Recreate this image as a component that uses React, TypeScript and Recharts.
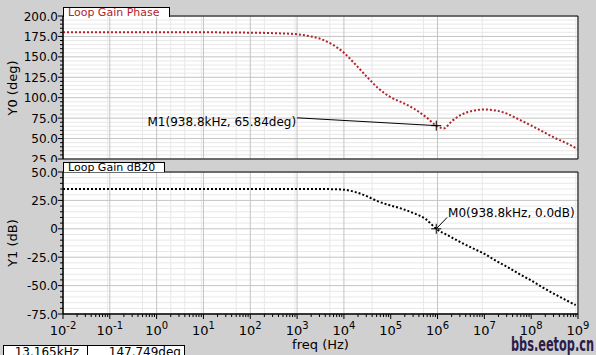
import { LineChart, Line, XAxis, YAxis, CartesianGrid, ReferenceArea, ReferenceLine, ReferenceDot } from 'recharts';

// log10 of frequency (Hz) at each sample
const phaseExp = [-2, -1, 0, 1, 2, 2.5, 3, 3.25, 3.5, 3.75, 4, 4.25, 4.5, 4.75, 5, 5.25, 5.5, 5.75, 5.9726, 6.13, 6.3, 6.5, 6.75, 7, 7.25, 7.5, 7.75, 8, 8.25, 8.5, 8.75, 9];
const phaseDeg = [180, 180, 180, 180, 179.6, 179, 177.6, 175.5, 172, 165.2, 155, 140.5, 125, 110.8, 100.5, 94, 86.5, 76.5, 65.84, 62.4, 71, 79, 84, 85.6, 84.3, 80, 73, 66, 58.5, 51, 44.5, 37];

const gainExp = [-2, -1, 0, 1, 2, 3, 3.5, 3.75, 4, 4.25, 4.5, 4.75, 5, 5.25, 5.5, 5.75, 5.9726, 6.25, 6.5, 6.75, 7, 7.25, 7.5, 7.75, 8, 8.25, 8.5, 8.75, 8.95];
const gainDb = [35, 35, 35, 35, 35, 35, 35, 34.9, 34.4, 32.3, 28.5, 23.8, 20.5, 17.5, 13.6, 8.5, 0, -6.4, -12, -17.1, -22, -28.2, -33.8, -39.9, -45.5, -51.7, -57.5, -62.9, -67.2];

const decades = [-2, -1, 0, 1, 2, 3, 4, 5, 6, 7, 8, 9];
const minorMult = [2, 3, 4, 5, 6, 7, 8, 9];
const phaseMajor = [25, 50, 75, 100, 125, 150, 175, 200];
const gainMajor = [-75, -50, -25, 0, 25, 50];

const markerFreq = 938.8e3;
const markerPhase = 65.84;
const markerGain = 0;

const phaseData = phaseExp.map((e, i) => ({ f: 10 ** e, v: phaseDeg[i] }));
const gainData = gainExp.map((e, i) => ({ f: 10 ** e, v: gainDb[i] }));

const xMajor = decades.map((d) => 10 ** d);
const xMinor = decades.slice(0, -1).flatMap((d) => minorMult.map((m) => m * 10 ** d));
const xAll = [...xMajor, ...xMinor];

const steps = (lo: number, hi: number) => {
    const out: number[] = [];
    for (let v = lo; v <= hi; v += 5) out.push(v);
    return out;
};
const phaseAll = steps(25, 200);
const phaseMinor = phaseAll.filter((v) => !phaseMajor.includes(v));
const gainAll = steps(-75, 50);
const gainMinor = gainAll.filter((v) => !gainMajor.includes(v));

const RED = '#b0242c';
const FONT = '"DejaVu Sans", Verdana, sans-serif';

const makeYTick = (majors: number[], fmt: (v: number) => string) => (props: any) => {
    const { x, y, payload } = props;
    const v = payload.value;
    const major = majors.includes(v);
    return (
        <g>
            <line x1={x - (major ? 5 : 3)} x2={x} y1={y} y2={y} stroke="#000" />
            {major && (
                <text x={x - 5} y={y + 4.5} textAnchor="end" fontSize={12} fill="#000">
                    {fmt(v)}
                </text>
            )}
        </g>
    );
};

const XTick = (props: any) => {
    const { x, y, payload } = props;
    const lg = Math.log10(payload.value);
    const e = Math.round(lg);
    const major = Math.abs(lg - e) < 1e-6;
    return (
        <g>
            <line x1={x} x2={x} y1={y} y2={y + (major ? 5 : 3)} stroke="#000" />
            {major && (
                <text x={x} y={y + 21} textAnchor="middle" fontSize={13} fill="#000">
                    10<tspan dy={-6} fontSize={10}>{e}</tspan>
                </text>
            )}
        </g>
    );
};

const Cross = (props: any) => {
    const { cx, cy } = props;
    return (
        <g stroke="#000" strokeWidth={1}>
            <line x1={cx - 5} x2={cx + 5} y1={cy} y2={cy} />
            <line x1={cx} x2={cx} y1={cy - 5} y2={cy + 5} />
        </g>
    );
};

const xAxes = (showMain: boolean) => [
    <XAxis key="main" xAxisId="main" type="number" dataKey="f" scale="log" domain={[1e-2, 1e9]} allowDataOverflow
        ticks={xAll} interval={0} hide={!showMain} height={41} tickSize={0} tickMargin={0}
        axisLine={{ stroke: '#000' }} tickLine={false} tick={<XTick />}
        label={showMain ? { value: 'freq (Hz)', position: 'insideBottom', offset: 6, fontSize: 13, fill: '#000' } : undefined} />,
    <XAxis key="maj" xAxisId="maj" type="number" dataKey="f" scale="log" domain={[1e-2, 1e9]} allowDataOverflow ticks={xMajor} hide />,
    <XAxis key="min" xAxisId="min" type="number" dataKey="f" scale="log" domain={[1e-2, 1e9]} allowDataOverflow ticks={xMinor} hide />,
];

const yAxes = (domain: number[], all: number[], majors: number[], minors: number[], fmt: (v: number) => string) => [
    <YAxis key="main" yAxisId="main" type="number" dataKey="v" domain={domain} allowDataOverflow ticks={all} interval={0} width={63}
        tickSize={0} tickMargin={0} axisLine={{ stroke: '#000' }} tickLine={false} tick={makeYTick(majors, fmt)} />,
    <YAxis key="maj" yAxisId="maj" type="number" dataKey="v" domain={domain} allowDataOverflow ticks={majors} interval={0} hide />,
    <YAxis key="min" yAxisId="min" type="number" dataKey="v" domain={domain} allowDataOverflow ticks={minors} interval={0} hide />,
];

const tabStyle = (top: number, width: number, color: string): React.CSSProperties => ({
    position: 'absolute', left: 63, top, width, height: 9, background: '#fff',
    border: '1px solid #000', borderBottom: 'none', fontSize: 11, lineHeight: '10px',
    color, paddingLeft: 4, boxSizing: 'content-box', whiteSpace: 'nowrap', overflow: 'visible',
});

export default function App() {
    return (
        <div style={{ position: 'absolute', left: 0, top: 0, width: 596, height: 355, background: '#d0d0d0', overflow: 'hidden', fontFamily: FONT }}>
            <div style={{ position: 'absolute', left: 0, top: 0 }}>
                <LineChart width={596} height={170} data={phaseData} margin={{ top: 16, right: 18, bottom: 11, left: 0 }}>
                    {xAxes(false)}
                    {yAxes([25, 200], phaseAll, phaseMajor, phaseMinor, (v) => v.toFixed(1))}
                    <CartesianGrid xAxisId="min" yAxisId="min" stroke="#e8e8e8" fill="#fff" fillOpacity={1} />
                    <CartesianGrid xAxisId="maj" yAxisId="maj" stroke="#c4c4c4" />
                    <Line xAxisId="main" yAxisId="main" type="monotone" dataKey="v" stroke={RED} strokeWidth={2}
                        strokeDasharray="2 2" dot={false} isAnimationActive={false} />
                    <ReferenceLine xAxisId="main" yAxisId="main" segment={[{ x: 1e3, y: 75.4 }, { x: markerFreq, y: markerPhase }]} stroke="#000" />
                    <ReferenceDot xAxisId="main" yAxisId="main" x={markerFreq} y={markerPhase} shape={<Cross />} />
                    <ReferenceDot xAxisId="main" yAxisId="main" x={1e3} y={75.4} shape={(p: any) => (
                        <text x={p.cx - 1} y={p.cy + 8} textAnchor="end" fontSize={12} fill="#000">M1(938.8kHz, 65.84deg)</text>
                    )} />
                    <ReferenceArea xAxisId="main" yAxisId="main" x1={1e-2} x2={1e9} y1={25} y2={200} fill="none" stroke="#000" />
                </LineChart>
            </div>
            <div style={tabStyle(7, 101, RED)}>Loop Gain Phase</div>

            <div style={{ position: 'absolute', left: 0, top: 162, background: '#d0d0d0' }}>
                <LineChart width={596} height={193} data={gainData} margin={{ top: 10, right: 18, bottom: 0, left: 0 }}>
                    {xAxes(true)}
                    {yAxes([-75, 50], gainAll, gainMajor, gainMinor, (v) => (v === 0 ? '0' : v.toFixed(1)))}
                    <CartesianGrid xAxisId="min" yAxisId="min" stroke="#e8e8e8" fill="#fff" fillOpacity={1} />
                    <CartesianGrid xAxisId="maj" yAxisId="maj" stroke="#c4c4c4" />
                    <Line xAxisId="main" yAxisId="main" type="monotone" dataKey="v" stroke="#000" strokeWidth={2}
                        strokeDasharray="2 2" dot={false} isAnimationActive={false} />
                    <ReferenceLine xAxisId="main" yAxisId="main" segment={[{ x: 1.6e6, y: 10 }, { x: markerFreq, y: markerGain }]} stroke="#000" />
                    <ReferenceDot xAxisId="main" yAxisId="main" x={markerFreq} y={markerGain} shape={<Cross />} />
                    <ReferenceDot xAxisId="main" yAxisId="main" x={1.6e6} y={10} shape={(p: any) => (
                        <text x={p.cx + 1} y={p.cy} textAnchor="start" fontSize={12} fill="#000">M0(938.8kHz, 0.0dB)</text>
                    )} />
                    <ReferenceArea xAxisId="main" yAxisId="main" x1={1e-2} x2={1e9} y1={-75} y2={50} fill="none" stroke="#000" />
                </LineChart>
            </div>
            <div style={tabStyle(162, 96, '#000')}>Loop Gain dB20</div>

            <div style={{ position: 'absolute', left: 12, top: 88, transform: 'translate(-50%, -50%) rotate(-90deg)', fontSize: 13, whiteSpace: 'nowrap' }}>Y0 (deg)</div>
            <div style={{ position: 'absolute', left: 12, top: 243, transform: 'translate(-50%, -50%) rotate(-90deg)', fontSize: 13, whiteSpace: 'nowrap' }}>Y1 (dB)</div>

            <div style={{ position: 'absolute', left: 3, top: 345, width: 85, height: 14, background: '#fff', border: '1px solid #000', fontSize: 12, lineHeight: '13px', textAlign: 'right', paddingRight: 8, boxSizing: 'border-box' }}>13.165kHz</div>
            <div style={{ position: 'absolute', left: 87, top: 345, width: 98, height: 14, background: '#fff', border: '1px solid #000', fontSize: 12, lineHeight: '13px', textAlign: 'right', paddingRight: 3, boxSizing: 'border-box' }}>147.749deg</div>

            <svg style={{ position: 'absolute', left: 510, top: 333 }} width={86} height={22}>
                <text x={1} y={18} fontSize={20} fontWeight="bold" fill="#2a1d48" textLength={83} lengthAdjust="spacingAndGlyphs"
                    fontFamily='"DejaVu Sans Condensed", "DejaVu Sans", sans-serif'>bbs.eetop.cn</text>
            </svg>
        </div>
    );
}
